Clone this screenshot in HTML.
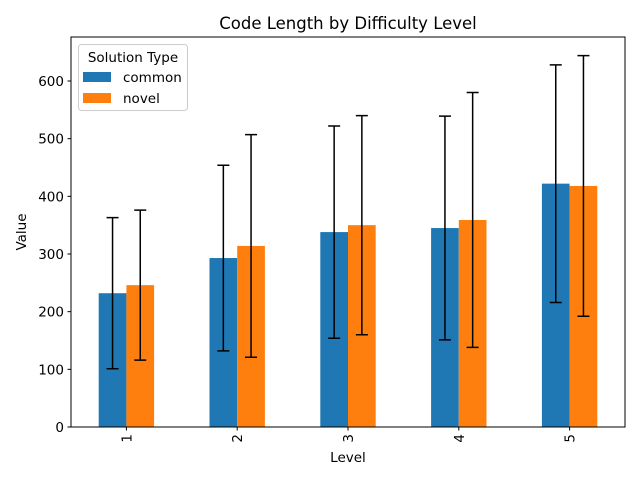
<!DOCTYPE html>
<html><head><meta charset="utf-8"><style>
body{margin:0;background:#fff}
svg text{font-family:"DejaVu Sans","Liberation Sans",sans-serif;fill:#000}
</style></head><body>
<svg id="c" width="640" height="480">
<text x="348" y="29" font-size="16.5" text-anchor="middle">Code Length by Difficulty Level</text>
<g id="plot"></g>
<rect x="71" y="37" width="554" height="390" fill="none" stroke="#000" stroke-width="1"/>
<text x="348" y="462" font-size="13.5" text-anchor="middle">Level</text>
<text transform="translate(26,232) rotate(-90)" font-size="13.5" text-anchor="middle">Value</text>
<g>
<rect x="78.5" y="44.5" width="109" height="66" rx="3" fill="#fff" stroke="#ccc"/>
<text x="133" y="62" font-size="13.5" text-anchor="middle">Solution Type</text>
<rect x="83" y="72" width="28" height="10" fill="#1f77b4"/>
<text x="123" y="82" font-size="13.5">common</text>
<rect x="83" y="93" width="28" height="10" fill="#ff7f0e"/>
<text x="123" y="103" font-size="13.5">novel</text>
</g>
</svg>
<script>
const categories=["1","2","3","4","5"];
const common=[232,293,338,345,422];
const novel=[246,314,350,359,418];
const commonErr=[131,161,184,194,206];
const novelErr=[130,193,190,221,226];
const yTicks=[0,100,200,300,400,500,600];
const NS="http://www.w3.org/2000/svg";
const g=document.getElementById('plot');
const X0=71,W=554,Y0=427,K=346/600;
const y=v=>Y0-v*K;
const band=W/categories.length;
const xc=i=>X0+band*(i+0.5);
const bw=band*0.25;
function mk(t,a){const e=document.createElementNS(NS,t);for(const k in a)e.setAttribute(k,a[k]);g.appendChild(e);return e;}
yTicks.forEach(v=>{
 const t=mk('line',{x1:X0-3.5,x2:X0,y1:y(v),y2:y(v),stroke:'#000'});
 
 
 const l=mk('text',{x:X0-7,y:y(v)+5,'font-size':13.5,'text-anchor':'end'});
 l.textContent=v;
 
 
});
const series=[[common,commonErr,'#1f77b4',-1,'common'],[novel,novelErr,'#ff7f0e',0,'novel']];
series.forEach(([vals,errs,col,off,name])=>{
 vals.forEach((v,i)=>{
  const x=xc(i)+off*bw;
  const r=mk('rect',{x:x,y:y(v),width:bw,height:Y0-y(v),fill:col});
  
  
 });
});
series.forEach(([vals,errs,col,off,name])=>{
 vals.forEach((v,i)=>{
  const cx=xc(i)+off*bw+bw/2;
  const lo=y(v-errs[i]),hi=y(v+errs[i]);
  const e=mk('path',{d:`M${cx},${lo}V${hi}M${cx-6},${lo}H${cx+6}M${cx-6},${hi}H${cx+6}`,stroke:'#000','stroke-width':1.5,fill:'none'});
  
  
 });
});
categories.forEach((c,i)=>{
 const t=mk('line',{x1:xc(i),x2:xc(i),y1:Y0,y2:Y0+3.5,stroke:'#000'});
 
 
 const l=mk('text',{transform:`translate(${xc(i)+5},${Y0+7}) rotate(-90)`,'font-size':13.5,'text-anchor':'end'});
 l.textContent=c;
 
 
});
</script>
</body></html>
